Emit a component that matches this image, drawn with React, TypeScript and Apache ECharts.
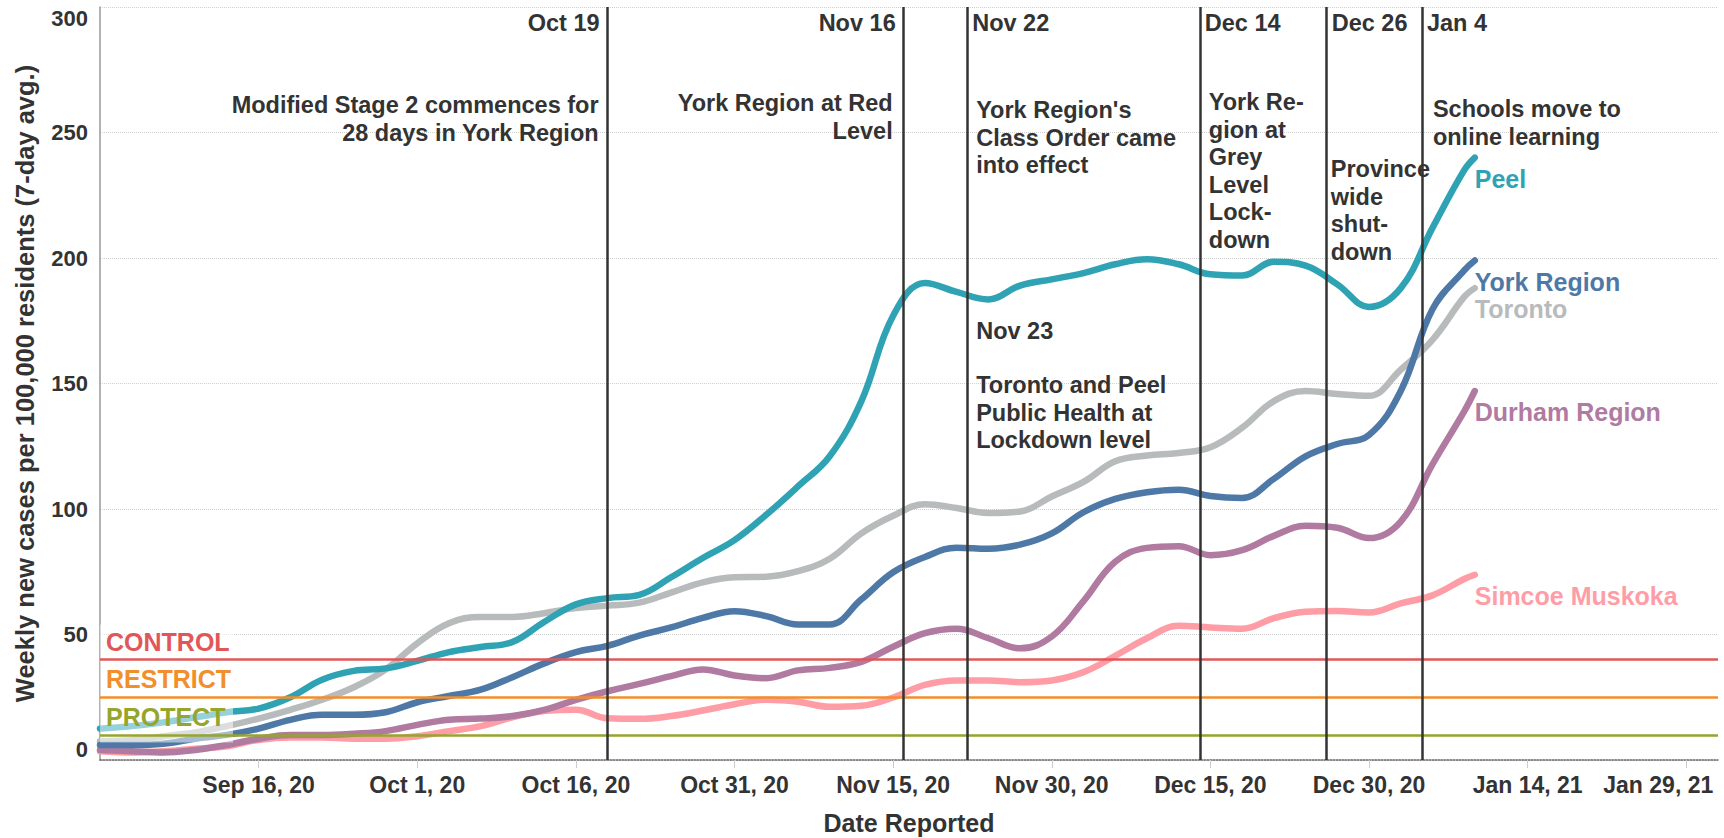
import React, { useEffect, useRef } from 'react';
import * as echarts from 'echarts';

// ---------- data ----------
const START_UTC = Date.UTC(2020, 8, 1); // day 0 = Sep 1, 2020
const MONTHS = ['Jan', 'Feb', 'Mar', 'Apr', 'May', 'Jun', 'Jul', 'Aug', 'Sep', 'Oct', 'Nov', 'Dec'];

const days = [0, 3, 6, 9, 12, 15, 18, 21, 24, 27, 30, 33, 36, 39, 42, 45, 48, 51, 54, 57, 60, 63, 66, 69, 72, 75, 78, 81, 84, 87, 90, 93, 96, 99, 102, 105, 108, 111, 114, 117, 120, 123, 126, 129, 130];

const peel = [12.5, 13.5, 15, 17, 19, 20.5, 25, 32, 35.5, 36.5, 39.5, 43, 45, 47, 55, 62, 64.5, 65.8, 72.8, 80.5, 87.6, 97.7, 109, 121, 143, 177, 190, 186.5, 183.5, 189, 191.5, 194, 197.5, 199.5, 197.5, 193.5, 193, 198.5, 197, 189.5, 180.5, 188, 212, 235, 240];
const york = [6, 6, 6.5, 8.5, 10, 12.5, 16, 18, 18, 19, 23, 25.5, 28, 33, 38.5, 43, 45.5, 49.6, 52.8, 56.6, 59.3, 57.3, 54, 54, 64, 74.8, 80.9, 84.6, 84.2, 85.8, 90.3, 98.7, 104, 106.7, 107.7, 105.2, 104.4, 112, 121, 125.9, 129.5, 147, 179.6, 195.1, 199];
const toronto = [7.5, 8, 9.5, 11, 13.5, 16.5, 20, 24, 29, 36, 46.5, 54.5, 57, 57, 58.5, 60.5, 61.5, 62.7, 66.7, 70.8, 72.8, 73, 75.2, 80.2, 90.3, 97.3, 101.9, 100.4, 98.4, 99, 105, 110.8, 119, 121.3, 122.3, 124.6, 132.4, 143, 147, 145.8, 145.1, 155.5, 167.4, 184.5, 188];
const durham = [4, 3.5, 3, 4, 6, 8.5, 10, 10, 10.5, 11.5, 14, 16, 16.5, 17.5, 20, 24, 27.4, 30.3, 33.4, 36.1, 33.7, 32.6, 35.7, 36.7, 39.1, 45.1, 50.5, 52.3, 48.5, 44.5, 49.2, 63.3, 79, 84.5, 85.2, 81.6, 83.6, 89.3, 93.3, 92.5, 88.4, 95, 117.8, 138.9, 147];
const simcoe = [3.5, 3, 3.5, 4.5, 5.5, 8, 9, 9, 8.5, 8.5, 9.5, 11.5, 13.5, 17, 19.5, 20, 16.6, 16.4, 17.5, 19.7, 22.2, 24, 23.2, 21.2, 21.6, 24.9, 29.9, 31.7, 31.7, 31, 31.7, 35, 41.5, 48.5, 53.5, 52.8, 52.3, 56.5, 59.1, 59.4, 58.8, 62.4, 65.6, 72.1, 73.8];

const seriesNames = ['Simcoe Muskoka', 'Toronto', 'Peel', 'Durham Region', 'York Region'];
const seriesValues = [simcoe, toronto, peel, durham, york];
const seriesColors = ['#ff9da7', '#b8bbbc', '#2fa3b3', '#b07aa1', '#4e79a7'];

const thresholdNames = ['CONTROL', 'RESTRICT', 'PROTECT'];
const thresholdValues = [40, 25, 10];
const thresholdColors = ['#e15759', '#f28e2b', '#96a52b'];

const eventDays = [48, 76, 82, 104, 116, 125];
const eventLabels = ['Oct 19', 'Nov 16', 'Nov 22', 'Dec 14', 'Dec 26', 'Jan 4'];

const X_MIN = 0;
const X_MAX = 153;
const X_STEP = 15;
const Y_MIN = 0;
const Y_MAX = 300;
const Y_STEP = 50;

// annotation notes: [event index, text, side, dx, first line centre y]
const notes: [number, string, 'left' | 'right', number, number][] = [
  [0, 'Modified Stage 2 commences for\n28 days in York Region', 'right', -9, 105],
  [1, 'York Region at Red\nLevel', 'right', -11, 103],
  [2, "York Region's\nClass Order came\ninto effect", 'left', 9, 110],
  [2, 'Nov 23', 'left', 9, 331],
  [2, 'Toronto and Peel\nPublic Health at\nLockdown level', 'left', 9, 385],
  [3, 'York Re-\ngion at\nGrey\nLevel\nLock-\ndown', 'left', 9, 102],
  [4, 'Province\nwide\nshut-\ndown', 'left', 4, 169],
  [5, 'Schools move to\nonline learning', 'left', 11, 109],
];
const eventLabelSide: ('left' | 'right')[] = ['right', 'right', 'left', 'left', 'left', 'left'];

const FONT = '"Liberation Sans", Arial, Helvetica, sans-serif';
const TEXT = '#333333';

function fmtDay(d: number): string {
  const dt = new Date(START_UTC + d * 86400000);
  return `${MONTHS[dt.getUTCMonth()]} ${dt.getUTCDate()}, ${String(dt.getUTCFullYear()).slice(2)}`;
}

export default function App() {
  const ref = useRef<HTMLDivElement>(null);

  useEffect(() => {
    if (!ref.current) return;
    const chart = echarts.init(ref.current, undefined, { renderer: 'svg' });

    const lineSeries = seriesNames.map((name, i) => ({
      name,
      type: 'line',
      data: days.map((d, j) => [d, seriesValues[i][j]]),
      showSymbol: false,
      smooth: 0.4,
      z: 2,
      lineStyle: { color: seriesColors[i], width: 6.5, cap: 'round', join: 'round' },
      itemStyle: { color: seriesColors[i] },
      endLabel: {
        show: true,
        formatter: name,
        color: seriesColors[i],
        fontFamily: FONT,
        fontSize: 25,
        fontWeight: 'bold',
        distance: 0,
        offset: [0, 21],
        align: 'left',
      },
      emphasis: { disabled: true },
    }));

    const thresholdSeries = thresholdNames.map((name, i) => ({
      name,
      type: 'line',
      data: [],
      z: 4,
      markLine: {
        silent: true,
        symbol: ['none', 'none'],
        label: { show: false },
        lineStyle: { color: thresholdColors[i], width: 2.5, type: 'solid' },
        emphasis: { disabled: true },
        data: [{ yAxis: thresholdValues[i] }],
      },
    }));

    const eventSeries = {
      name: 'events',
      type: 'line',
      data: [],
      z: 5,
      markLine: {
        silent: true,
        symbol: ['none', 'none'],
        label: { show: false },
        lineStyle: { color: '#333333', width: 2.5, type: 'solid' },
        emphasis: { disabled: true },
        data: eventDays.map((d) => ({ xAxis: d })),
      },
    };

    chart.setOption({
      animation: false,
      backgroundColor: '#ffffff',
      grid: { left: 100, right: 6, top: 7, bottom: 78, containLabel: false, outerBoundsMode: 'none' },
      xAxis: {
        type: 'value',
        min: X_MIN,
        max: X_MAX,
        interval: X_STEP,
        name: 'Date Reported',
        nameLocation: 'middle',
        nameGap: 50,
        nameTextStyle: { fontFamily: FONT, fontSize: 25, fontWeight: 'bold', color: TEXT },
        axisLine: { show: true, lineStyle: { color: '#666666', type: 'dotted', width: 1.5 } },
        axisTick: { show: true, length: 8, lineStyle: { color: '#cccccc', width: 1 } },
        splitLine: { show: false },
        axisLabel: {
          fontFamily: FONT,
          fontSize: 23,
          fontWeight: 'bold',
          color: TEXT,
          margin: 13,
          showMinLabel: false,
          showMaxLabel: false,
          formatter: (v: number) => {
            if (v <= X_MIN || v % X_STEP !== 0) return '';
            if (v + X_STEP > X_MAX) return `{last|${fmtDay(v)}}`;
            return fmtDay(v);
          },
          rich: {
            last: { fontFamily: FONT, fontSize: 23, fontWeight: 'bold', color: TEXT, padding: [0, 56, 0, 0] },
          },
        },
      },
      yAxis: {
        type: 'value',
        min: Y_MIN,
        max: Y_MAX,
        interval: Y_STEP,
        name: 'Weekly new cases per 100,000 residents (7-day avg.)',
        nameLocation: 'middle',
        nameGap: 62,
        nameTextStyle: { fontFamily: FONT, fontSize: 25.5, fontWeight: 'bold', color: TEXT },
        axisLine: { show: true, lineStyle: { color: '#999999', width: 1.5 } },
        axisTick: { show: false },
        splitLine: { show: true, lineStyle: { color: '#cfcfcf', type: 'dotted', width: 1 } },
        axisLabel: {
          fontFamily: FONT,
          fontSize: 22,
          fontWeight: 'bold',
          color: TEXT,
          margin: 12,
          verticalAlignMinLabel: 'bottom',
          verticalAlignMaxLabel: 'top',
        },
      },
      series: [...lineSeries, ...thresholdSeries, eventSeries],
    });

    const px = (d: number) => chart.convertToPixel({ xAxisIndex: 0 }, d) as number;
    const py = (v: number) => chart.convertToPixel({ yAxisIndex: 0 }, v) as number;
    const left = px(X_MIN);
    const top = py(Y_MAX);

    const graphics: any[] = [];
    // translucent box behind the threshold labels
    graphics.push({
      type: 'rect',
      z: 3,
      silent: true,
      shape: { x: left, y: py(thresholdValues[0]) - 35, width: 133, height: 118 },
      style: { fill: 'rgba(255,255,255,0.5)' },
    });
    thresholdNames.forEach((name, i) => {
      graphics.push({
        type: 'text',
        z: 10,
        x: left + 6,
        y: py(thresholdValues[i]) - 18,
        style: {
          text: name,
          fill: thresholdColors[i],
          font: `bold 25px ${FONT}`,
          align: 'left',
          verticalAlign: 'middle',
        },
      });
    });
    eventLabels.forEach((label, i) => {
      const side = eventLabelSide[i];
      graphics.push({
        type: 'text',
        z: 10,
        x: px(eventDays[i]) + (side === 'right' ? -8 : 5),
        y: top + 16,
        style: {
          text: label,
          fill: TEXT,
          font: `bold 23.5px ${FONT}`,
          align: side,
          verticalAlign: 'middle',
        },
      });
    });
    const LH = 27.5;
    notes.forEach(([idx, text, side, dx, cy]) => {
      graphics.push({
        type: 'text',
        z: 10,
        x: px(eventDays[idx]) + dx,
        y: cy - LH / 2,
        style: {
          text,
          fill: TEXT,
          font: `bold 23.5px ${FONT}`,
          lineHeight: LH,
          align: side,
          verticalAlign: 'top',
        },
      });
    });
    chart.setOption({ graphic: graphics });

    return () => {
      chart.dispose();
    };
  }, []);

  return (
    <div
      ref={ref}
      style={{ position: 'fixed', left: 0, top: 0, width: 1724, height: 838, background: '#fff' }}
    />
  );
}
